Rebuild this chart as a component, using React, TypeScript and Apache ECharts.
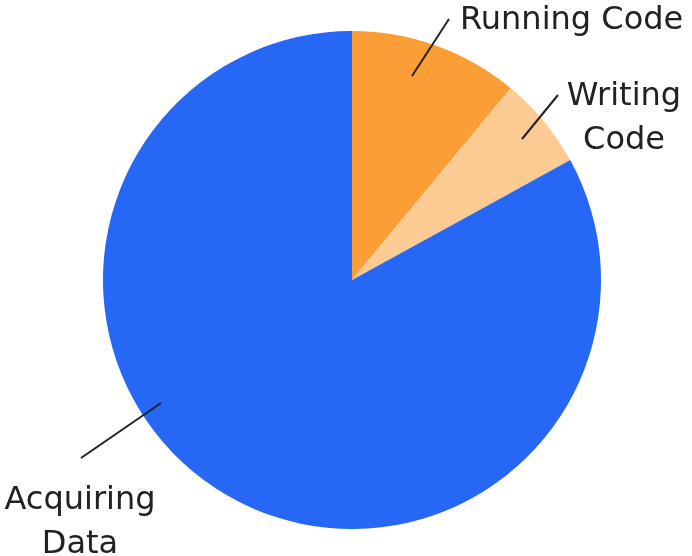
import React, { useEffect, useRef } from "react";
import * as echarts from "echarts";

// Data
const categories = ["Running Code", "Writing Code", "Acquiring Data"];
const labelTexts = ["Running Code", "Writing\nCode", "Acquiring\nData"];
const values = [11, 6, 83];
const colors = ["#FA9E35", "#FCCB94", "#2767F5"];

// Label placement (layout only)
const labelPos = [
  { x: 460, y: 18, align: "left", line: [[412, 76], [449, 19]] },
  { x: 624, y: 116, align: "center", line: [[522, 139], [558, 95]] },
  { x: 80, y: 520, align: "center", line: [[161, 403], [81, 458]] },
];

export default function App() {
  const ref = useRef<HTMLDivElement>(null);
  useEffect(() => {
    if (!ref.current) return;
    const chart = echarts.init(ref.current, undefined, { renderer: "svg" });
    const data = categories.map((name, i) => ({
      name,
      value: values[i],
      itemStyle: { color: colors[i] },
    }));
    const overlayData = categories.map((name, i) => ({
      name,
      value: values[i],
      itemStyle: { color: "rgba(0,0,0,0)", borderWidth: 0 },
    }));
    chart.setOption({
      animation: false,
      series: [
        {
          type: "pie",
          z: 2,
          center: [352, 280],
          radius: 249,
          startAngle: 90,
          clockwise: true,
          data,
          label: { show: false },
          labelLine: { show: false },
          emphasis: { disabled: true },
        },
        {
          type: "pie",
          z: 5,
          center: [352, 280],
          radius: 249,
          startAngle: 90,
          clockwise: true,
          silent: true,
          data: overlayData,
          label: {
            show: true,
            position: "outside",
            formatter: (p: any) => labelTexts[p.dataIndex],
            fontFamily: "DejaVu Sans",
            fontSize: 32,
            lineHeight: 44,
            color: "#222222",
            overflow: "none",
            width: 300,
          },
          labelLine: {
            show: true,
            lineStyle: { color: "#222222", width: 2, opacity: 1 },
          },
          labelLayout: (p: any) => {
            const l = labelPos[p.dataIndex];
            return {
              x: l.x,
              y: l.y,
              align: l.align,
              verticalAlign: "middle",
              labelLinePoints: l.line,
            };
          },
          emphasis: { disabled: true },
        },
      ],
    });
    return () => chart.dispose();
  }, []);
  return (
    <div
      ref={ref}
      style={{ position: "fixed", left: 0, top: 0, width: 692, height: 556 }}
    />
  );
}
